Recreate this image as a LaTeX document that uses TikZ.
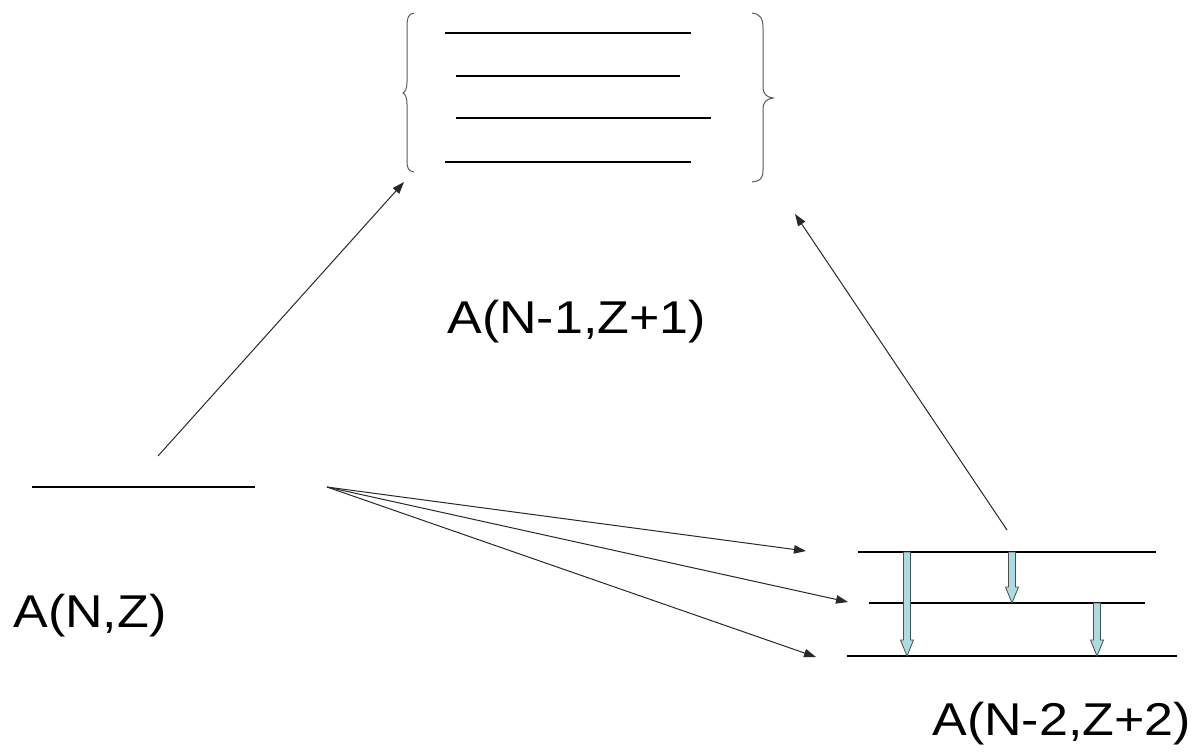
\documentclass[tikz,border=0pt]{standalone}
\usepackage{fontspec}
\setmainfont{Liberation Sans}
\newfontfamily\lblfont[FakeStretch=1.13]{Liberation Sans}
\usetikzlibrary{arrows.meta}
\definecolor{decayfill}{RGB}{172,220,224}
\definecolor{decayedge}{RGB}{70,80,80}
\definecolor{linkgray}{RGB}{40,40,40}
\tikzset{
  level/.style={line width=0.7pt, black},
  bracepath/.style={line width=0.5pt, draw=black!65},
  link/.style={line width=0.5pt, draw=linkgray, -{Triangle[length=6pt,width=4.2pt]}},
  label/.style={inner sep=0pt, anchor=base west, font=\lblfont\fontsize{23}{27}\selectfont},
  decay/.style={fill=decayfill, draw=decayedge, line width=0.4pt, line join=miter},
}
% hollow vertical decay arrow: x, top y, bottom y
\newcommand\decayarrow[3]{%
  \draw[decay] (#1-3.5,#2) -- (#1-3.5,#3-16) -- (#1-6.5,#3-16) -- (#1,#3)
    -- (#1+6.5,#3-16) -- (#1+3.5,#3-16) -- (#1+3.5,#2) -- cycle;}
\begin{document}
\begin{tikzpicture}[x=0.5pt,y=-0.5pt]
\useasboundingbox (0,0) rectangle (1198,752);

% excited levels of the intermediate nucleus
\draw[level] (445,33) -- (691,33);
\draw[level] (456,76) -- (680,76);
\draw[level] (456,118) -- (711,118);
\draw[level] (445,162) -- (691,162);

% braces around the level group
\draw[bracepath] (414,13) .. controls (408,14) and (407,18) .. (407,27) -- (407,82)
  .. controls (407,89) and (405,92) .. (403,93) .. controls (405,94) and (407,97) .. (407,104)
  -- (407,160) .. controls (407,168) and (408,171) .. (414,172);
\draw[bracepath] (752,13) .. controls (760,14) and (763,18) .. (763,28) -- (763,86)
  .. controls (763,94) and (766,97) .. (773,98) .. controls (766,99) and (763,102) .. (763,110)
  -- (763,170) .. controls (763,179) and (760,181) .. (752,182);

% parent level
\draw[level] (32,487) -- (255,487);

% daughter levels
\draw[level] (858,552) -- (1156,552);
\draw[level] (869,603) -- (1145,603);
\draw[level] (847,656) -- (1177,656);

% gamma transitions in the daughter
\decayarrow{907}{552}{656}
\decayarrow{1012}{552}{603}
\decayarrow{1097}{603}{656}

% connector end points
\coordinate (pstart) at (158,456);
\coordinate (bracein) at (404,182);
\coordinate (dstart) at (1007,530);
\coordinate (braceout) at (795,214);
\coordinate (fan) at (327,487);
\coordinate (d1) at (806,551);
\coordinate (d2) at (848,602);
\coordinate (d3) at (816,657);

\draw[link] (pstart) -- (bracein);
\draw[link] (dstart) -- (braceout);
\draw[link] (fan) -- (d1);
\draw[link] (fan) -- (d2);
\draw[link] (fan) -- (d3);

% nucleus labels
\node[label] (mid) at (447,333) {A(N-1,Z+1)};
\node[label] (parent) at (13,627) {A(N,Z)};
\node[label] (daughter) at (932,735) {A(N-2,Z+2)};
\end{tikzpicture}
\end{document}
